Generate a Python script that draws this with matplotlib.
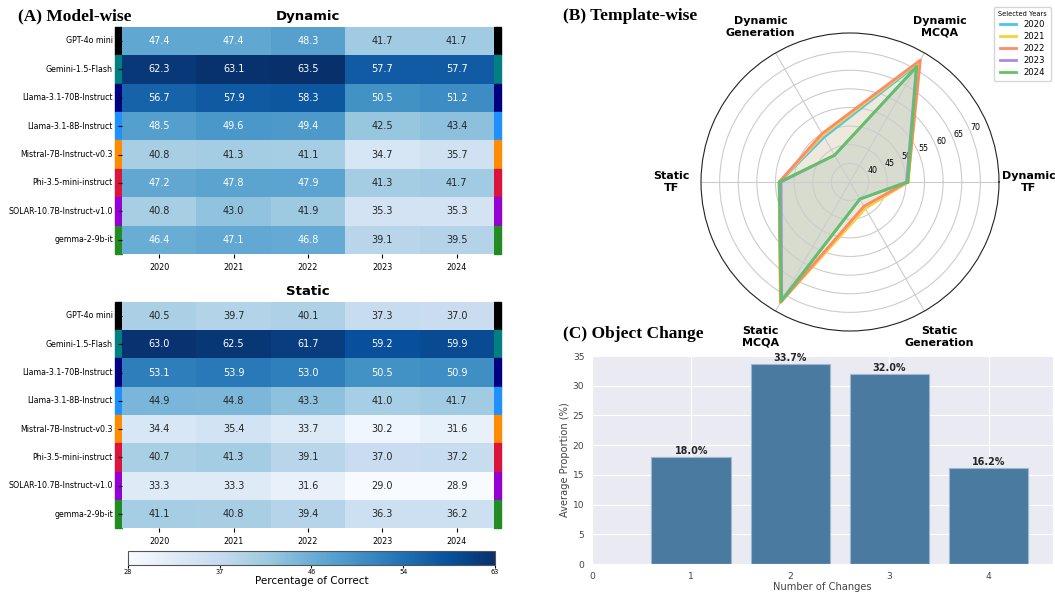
import numpy as np
import matplotlib
matplotlib.use("Agg")
import matplotlib.pyplot as plt
from matplotlib.patches import Rectangle
from matplotlib.ticker import FormatStrFormatter
import matplotlib.cm as cm
import matplotlib.colors as mcolors
import seaborn as sns

# ---------------- data ----------------
models = ["GPT-4o mini", "Gemini-1.5-Flash", "Llama-3.1-70B-Instruct", "Llama-3.1-8B-Instruct",
          "Mistral-7B-Instruct-v0.3", "Phi-3.5-mini-instruct", "SOLAR-10.7B-Instruct-v1.0", "gemma-2-9b-it"]
model_colors = ["#000000", "#008080", "#000080", "#1E90FF", "#FF8C00", "#DC143C", "#9400D3", "#228B22"]
years = ["2020", "2021", "2022", "2023", "2024"]

dynamic_vals = [
    [47.4, 47.4, 48.3, 41.7, 41.7],
    [62.3, 63.1, 63.5, 57.7, 57.7],
    [56.7, 57.9, 58.3, 50.5, 51.2],
    [48.5, 49.6, 49.4, 42.5, 43.4],
    [40.8, 41.3, 41.1, 34.7, 35.7],
    [47.2, 47.8, 47.9, 41.3, 41.7],
    [40.8, 43.0, 41.9, 35.3, 35.3],
    [46.4, 47.1, 46.8, 39.1, 39.5],
]
static_vals = [
    [40.5, 39.7, 40.1, 37.3, 37.0],
    [63.0, 62.5, 61.7, 59.2, 59.9],
    [53.1, 53.9, 53.0, 50.5, 50.9],
    [44.9, 44.8, 43.3, 41.0, 41.7],
    [34.4, 35.4, 33.7, 30.2, 31.6],
    [40.7, 41.3, 39.1, 37.0, 37.2],
    [33.3, 33.3, 31.6, 29.0, 28.9],
    [41.1, 40.8, 39.4, 36.3, 36.2],
]

radar_categories = ["Dynamic\nTF", "Dynamic\nMCQA", "Dynamic\nGeneration",
                    "Static\nTF", "Static\nMCQA", "Static\nGeneration"]
radar_years = ["2020", "2021", "2022", "2023", "2024"]
radar_colors = ["#4FC3F7", "#F2D43A", "#FF8A65", "#A98BE0", "#5EC463"]
radar_2020 = [50.5, 71.8, 48.9, 54.0, 72.2, 43.0]
radar_2021 = [50.6, 72.4, 49.5, 54.0, 72.4, 43.2]
radar_2022 = [50.5, 72.8, 50.0, 54.0, 72.3, 42.5]
radar_2023 = [50.2, 70.6, 43.3, 53.5, 71.7, 40.3]
radar_2024 = [50.5, 70.8, 43.3, 54.0, 71.9, 40.3]
radar_values = [radar_2020, radar_2021, radar_2022, radar_2023, radar_2024]
radar_rticks = [40, 45, 50, 55, 60, 65, 70]

changes = [1, 2, 3, 4]
change_props = [18.0, 33.7, 32.0, 16.2]

# ---------------- figure ----------------
W, H = 1055, 592
fig = plt.figure(figsize=(W / 100, H / 100), dpi=100)

def box(x0, y0, x1, y1):
    return [x0 / W, 1 - y1 / H, (x1 - x0) / W, (y1 - y0) / H]

all_vals = np.array(dynamic_vals + static_vals)
vmin, vmax = all_vals.min(), all_vals.max()
cmap = "Blues"

def draw_heat(ax, vals, title):
    sns.heatmap(np.array(vals), ax=ax, cmap=cmap, vmin=vmin, vmax=vmax, annot=True, fmt=".1f",
                annot_kws={"size": 7}, cbar=False, xticklabels=years, yticklabels=models)
    ax.set_title(title, fontsize=9.5, fontweight="bold", pad=5)
    ax.tick_params(axis="y", labelsize=5.7, rotation=0, length=3)
    ax.tick_params(axis="x", labelsize=5.8, rotation=0, length=3)
    sw = 0.1
    for i, c in enumerate(model_colors):
        ax.add_patch(Rectangle((-sw, i), sw, 1, color=c, clip_on=False, zorder=0))
        ax.add_patch(Rectangle((len(years), i), sw, 1, color=c, clip_on=False, zorder=0))

ax_dyn = fig.add_axes(box(122, 26.7, 494, 254))
draw_heat(ax_dyn, dynamic_vals, "Dynamic")
ax_sta = fig.add_axes(box(122, 301.7, 494, 528.3))
draw_heat(ax_sta, static_vals, "Static")

cax = fig.add_axes(box(127.7, 550.7, 495, 564.7))
sm = cm.ScalarMappable(norm=mcolors.Normalize(vmin=vmin, vmax=vmax), cmap=cmap)
cb = fig.colorbar(sm, cax=cax, orientation="horizontal", ticks=np.linspace(vmin, vmax, 5))
cb.ax.xaxis.set_major_formatter(FormatStrFormatter("%d"))
cb.ax.tick_params(labelsize=4.7, length=2, pad=1)
cb.set_label("Percentage of Correct", fontsize=7.5, labelpad=1)
cb.outline.set_edgecolor("#555555")
cb.outline.set_linewidth(0.8)

# ---------------- radar ----------------
axr = fig.add_axes(box(701, 33, 999, 331), polar=True)
angles = np.linspace(0, 2 * np.pi, len(radar_categories), endpoint=False)
ang_closed = np.concatenate([angles, angles[:1]])
for yr, vals, col in zip(radar_years, radar_values, radar_colors):
    v = np.concatenate([vals, vals[:1]])
    axr.plot(ang_closed, v, color=col, lw=2, label=yr)
    axr.fill(ang_closed, v, color=col, alpha=0.1)
axr.set_ylim(35, 75)
axr.set_yticks(radar_rticks)
axr.set_yticklabels([str(t) for t in radar_rticks], fontsize=5.7)
axr.set_rlabel_position(22.5)
axr.set_xticks(angles)
axr.set_xticklabels(radar_categories, fontsize=8, fontweight="bold")
axr.tick_params(axis="x", pad=11)
axr.grid(color="#cccccc", lw=0.8)
axr.spines["polar"].set_color("#222222")
axr.spines["polar"].set_linewidth(0.8)
leg = axr.legend(loc="upper right", bbox_to_anchor=(1.0, 0.995), bbox_transform=fig.transFigure,
                 title="Selected Years", fontsize=6.1, title_fontsize=4.8, frameon=True,
                 handlelength=2.0, borderpad=0.5, labelspacing=0.35)
leg.get_frame().set_edgecolor("#cccccc")

# ---------------- bar chart ----------------
with sns.axes_style("darkgrid"):
    axb = fig.add_axes(box(592, 356, 1053, 564))
    axb.bar(changes, change_props, width=0.8, color="#4a7aa0", edgecolor="#9db8d0", lw=0.8)
    for x, v in zip(changes, change_props):
        axb.text(x, v + 0.2, f"{v:.1f}%", ha="center", va="bottom", fontsize=6.9,
                 fontweight="bold", color="#262626")
    axb.set_xlim(0, 4.65)
    axb.set_ylim(0, 35)
    axb.set_xticks([0, 1, 2, 3, 4])
    axb.tick_params(labelsize=6.6, colors="#444444", pad=2)
    axb.set_xlabel("Number of Changes", fontsize=7.1, color="#444444", labelpad=1)
    axb.set_ylabel("Average Proportion (%)", fontsize=7.1, color="#444444", labelpad=2)

# ---------------- panel titles ----------------
tkw = dict(family="Liberation Serif", fontweight="bold", fontsize=12.5, va="baseline")
fig.text(18 / W, 1 - 20 / H, "(A) Model-wise", **tkw)
fig.text(563 / W, 1 - 20 / H, "(B) Template-wise", **tkw)
fig.text(563 / W, 1 - 338 / H, "(C) Object Change", **tkw)

fig.savefig("out.png", dpi=100)
